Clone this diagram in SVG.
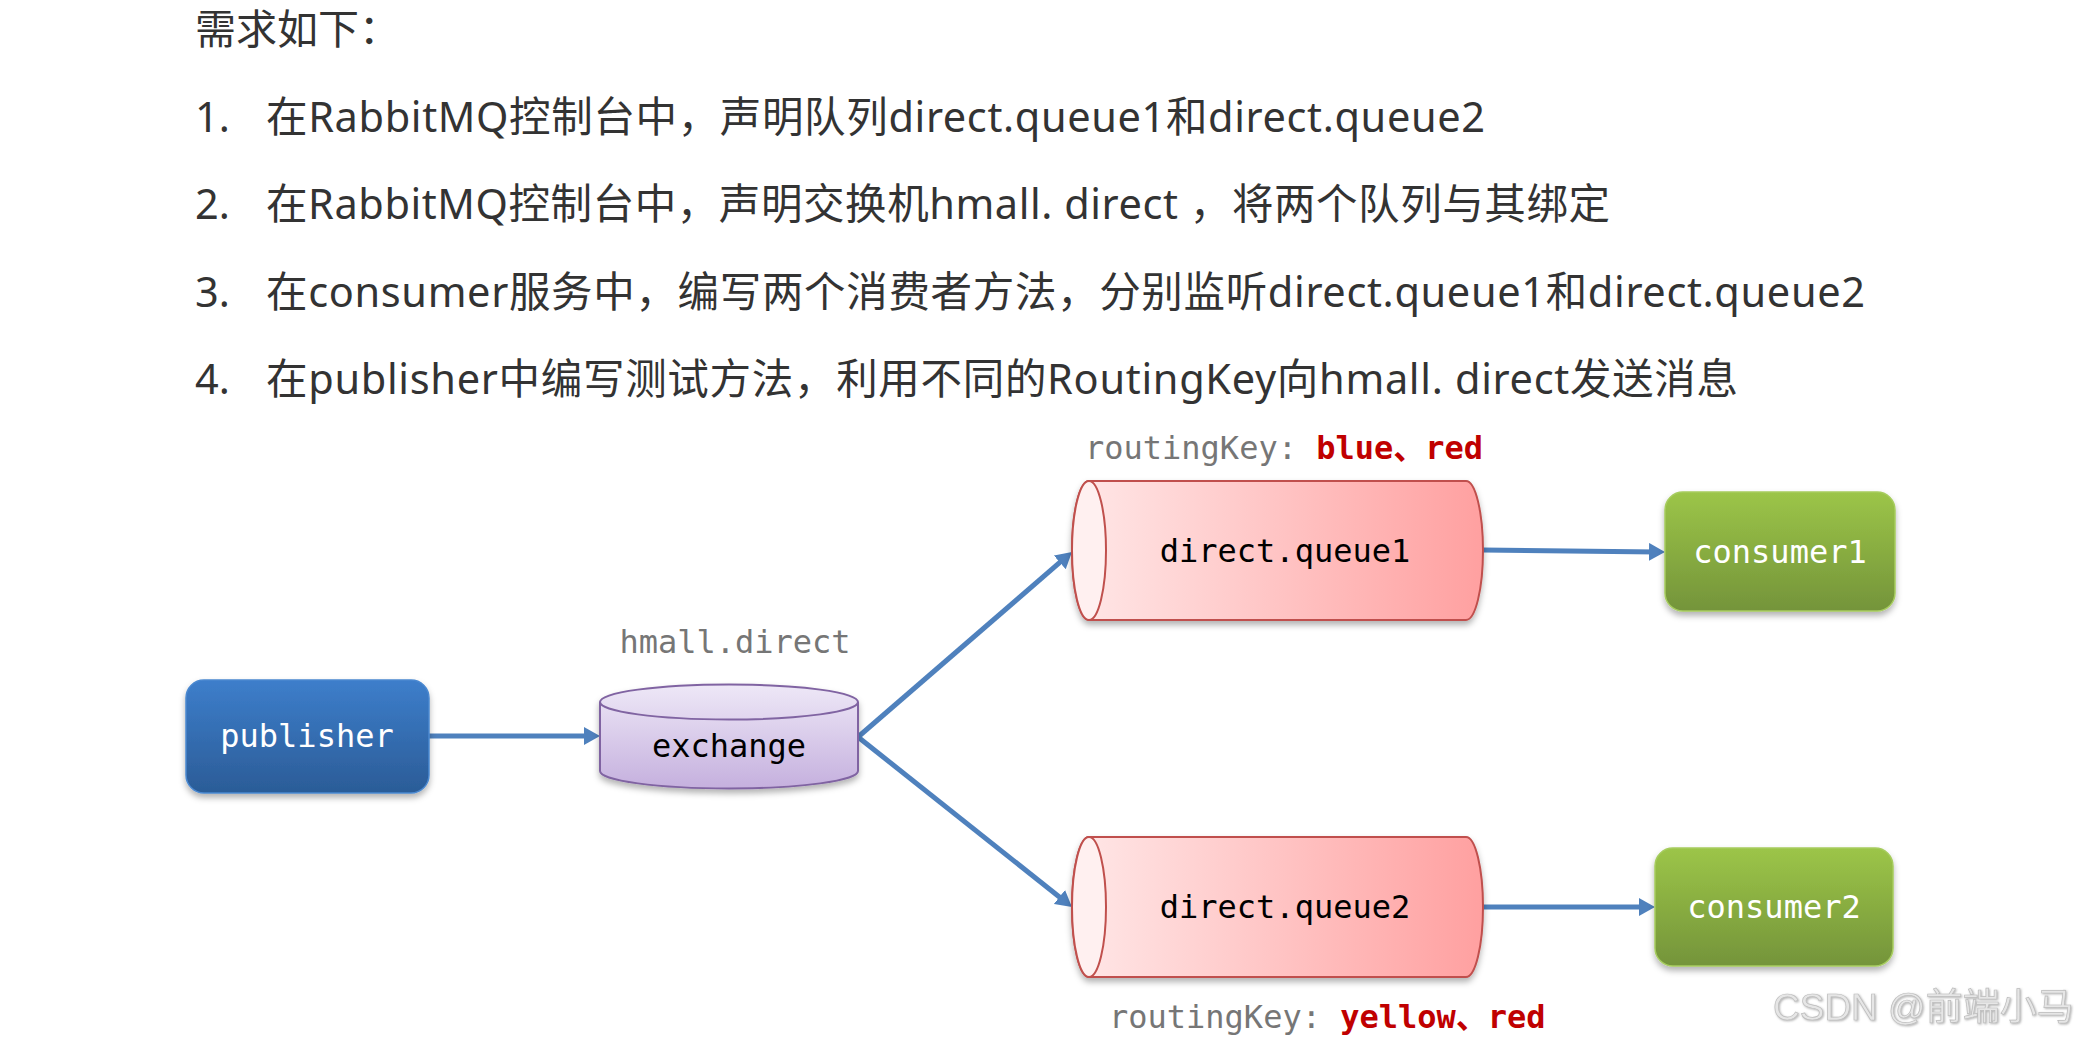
<svg xmlns="http://www.w3.org/2000/svg" width="2083" height="1040" viewBox="0 0 2083 1040">
  <defs>
    <style>
      .txt { font-family: "Noto Sans", "Noto Sans CJK SC", sans-serif; fill: #333333; }
      .title { font-size: 41px; }
      .item { font-size: 41.5px; }
      .mono { font-family: "DejaVu Sans Mono", "Liberation Mono", "Noto Sans CJK SC", monospace; font-size: 32px; }
      .node-w { fill: #ffffff; text-anchor: middle; }
      .node-b { fill: #000000; text-anchor: middle; }
      .label { fill: #767676; }
      .key { fill: #c00000; font-weight: bold; }
      .conn { stroke: #4f81bd; stroke-width: 5; fill: none; marker-end: url(#arrow); }
      .wm { font-family: "Liberation Sans", "Noto Sans CJK SC", sans-serif; font-size: 37px; fill: #e6e6e6; stroke: #bdbdbd; stroke-width: 0.7; }
    </style>
    <linearGradient id="gPub" x1="0" y1="0" x2="0" y2="1">
      <stop offset="0" stop-color="#3d7ecb"/>
      <stop offset="1" stop-color="#2b5c97"/>
    </linearGradient>
    <linearGradient id="gCon" x1="0" y1="0" x2="0" y2="1">
      <stop offset="0" stop-color="#9cc548"/>
      <stop offset="1" stop-color="#74943a"/>
    </linearGradient>
    <linearGradient id="gEx" x1="0" y1="0" x2="0" y2="1">
      <stop offset="0" stop-color="#eee8f7"/>
      <stop offset="1" stop-color="#c5b0de"/>
    </linearGradient>
    <linearGradient id="gQ" x1="0" y1="0" x2="1" y2="0">
      <stop offset="0" stop-color="#ffe8e8"/>
      <stop offset="1" stop-color="#ffa0a0"/>
    </linearGradient>
    <filter id="shadow" x="-10%" y="-10%" width="120%" height="130%">
      <feDropShadow dx="0" dy="4" stdDeviation="3" flood-color="#000000" flood-opacity="0.3"/>
    </filter>
    <filter id="wmShadow" x="-5%" y="-20%" width="110%" height="150%">
      <feDropShadow dx="1" dy="1" stdDeviation="0.8" flood-color="#808080" flood-opacity="0.6"/>
    </filter>
    <marker id="arrow" markerUnits="userSpaceOnUse" markerWidth="18" markerHeight="18" refX="8" refY="9" orient="auto">
      <path d="M0,0 L16,9 L0,18 Z" fill="#4f81bd"/>
    </marker>
  </defs>

  <rect x="0" y="0" width="2083" height="1040" fill="#ffffff"/>

  <g id="text-block">
    <text class="txt title" x="195" y="44">需求如下：</text>
    <text class="txt item" x="195" y="132">1.</text>
    <text class="txt item" x="266" y="132" textLength="1219" lengthAdjust="spacing">在RabbitMQ控制台中，声明队列direct.queue1和direct.queue2</text>
    <text class="txt item" x="195" y="219">2.</text>
    <text class="txt item" x="266" y="219" textLength="1344" lengthAdjust="spacing">在RabbitMQ控制台中，声明交换机hmall. direct ，将两个队列与其绑定</text>
    <text class="txt item" x="195" y="307">3.</text>
    <text class="txt item" x="266" y="307" textLength="1599" lengthAdjust="spacing">在consumer服务中，编写两个消费者方法，分别监听direct.queue1和direct.queue2</text>
    <text class="txt item" x="195" y="394">4.</text>
    <text class="txt item" x="266" y="394" textLength="1472" lengthAdjust="spacing">在publisher中编写测试方法，利用不同的RoutingKey向hmall. direct发送消息</text>
  </g>

  <g id="connectors">
    <line class="conn" x1="429" y1="736" x2="592" y2="736"/>
    <line class="conn" x1="858" y1="737" x2="1065.9" y2="557.2"/>
    <line class="conn" x1="858" y1="737" x2="1065.7" y2="902"/>
    <line class="conn" x1="1483" y1="550" x2="1657" y2="552"/>
    <line class="conn" x1="1483" y1="907" x2="1647" y2="907"/>
  </g>

  <g id="publisher">
    <rect x="186" y="680" width="243" height="113" rx="18" fill="url(#gPub)" stroke="#4a88d0" stroke-width="1.5" filter="url(#shadow)"/>
    <text class="mono node-w" x="307" y="747">publisher</text>
  </g>

  <g id="exchange">
    <text class="mono label" x="735" y="653" text-anchor="middle">hmall.direct</text>
    <path d="M600,702 A129,17.5 0 0 1 858,702 L858,771 A129,17.5 0 0 1 600,771 Z" fill="url(#gEx)" stroke="#8064a2" stroke-width="2" filter="url(#shadow)"/>
    <path d="M600,702 A129,17.5 0 0 0 858,702" fill="none" stroke="#8064a2" stroke-width="2"/>
    <text class="mono node-b" x="729" y="757">exchange</text>
  </g>

  <g id="queue1">
    <text class="mono" x="1085" y="459"><tspan class="label">routingKey: </tspan><tspan class="key">blue、red</tspan></text>
    <path d="M1089,481 L1466,481 A17,69.5 0 0 1 1466,620 L1089,620 A17,69.5 0 0 1 1089,481 Z" fill="url(#gQ)" stroke="#c0504d" stroke-width="2" filter="url(#shadow)"/>
    <ellipse cx="1089" cy="550.5" rx="17" ry="69.5" fill="#fff0f0" stroke="#c0504d" stroke-width="2"/>
    <text class="mono node-b" x="1285" y="562">direct.queue1</text>
  </g>

  <g id="consumer1">
    <rect x="1665" y="492" width="230" height="119" rx="18" fill="url(#gCon)" stroke="#a6cc5e" stroke-width="1.5" filter="url(#shadow)"/>
    <text class="mono node-w" x="1780" y="563">consumer1</text>
  </g>

  <g id="queue2">
    <path d="M1089,837 L1466,837 A17,70 0 0 1 1466,977 L1089,977 A17,70 0 0 1 1089,837 Z" fill="url(#gQ)" stroke="#c0504d" stroke-width="2" filter="url(#shadow)"/>
    <ellipse cx="1089" cy="907" rx="17" ry="70" fill="#fff0f0" stroke="#c0504d" stroke-width="2"/>
    <text class="mono node-b" x="1285" y="918">direct.queue2</text>
    <text class="mono" x="1109" y="1028"><tspan class="label">routingKey: </tspan><tspan class="key">yellow、red</tspan></text>
  </g>

  <g id="consumer2">
    <rect x="1655" y="848" width="238" height="118" rx="18" fill="url(#gCon)" stroke="#a6cc5e" stroke-width="1.5" filter="url(#shadow)"/>
    <text class="mono node-w" x="1774" y="918">consumer2</text>
  </g>

  <g id="watermark">
    <text class="wm" x="1773" y="1020" filter="url(#wmShadow)">CSDN @前端小马</text>
  </g>
</svg>
